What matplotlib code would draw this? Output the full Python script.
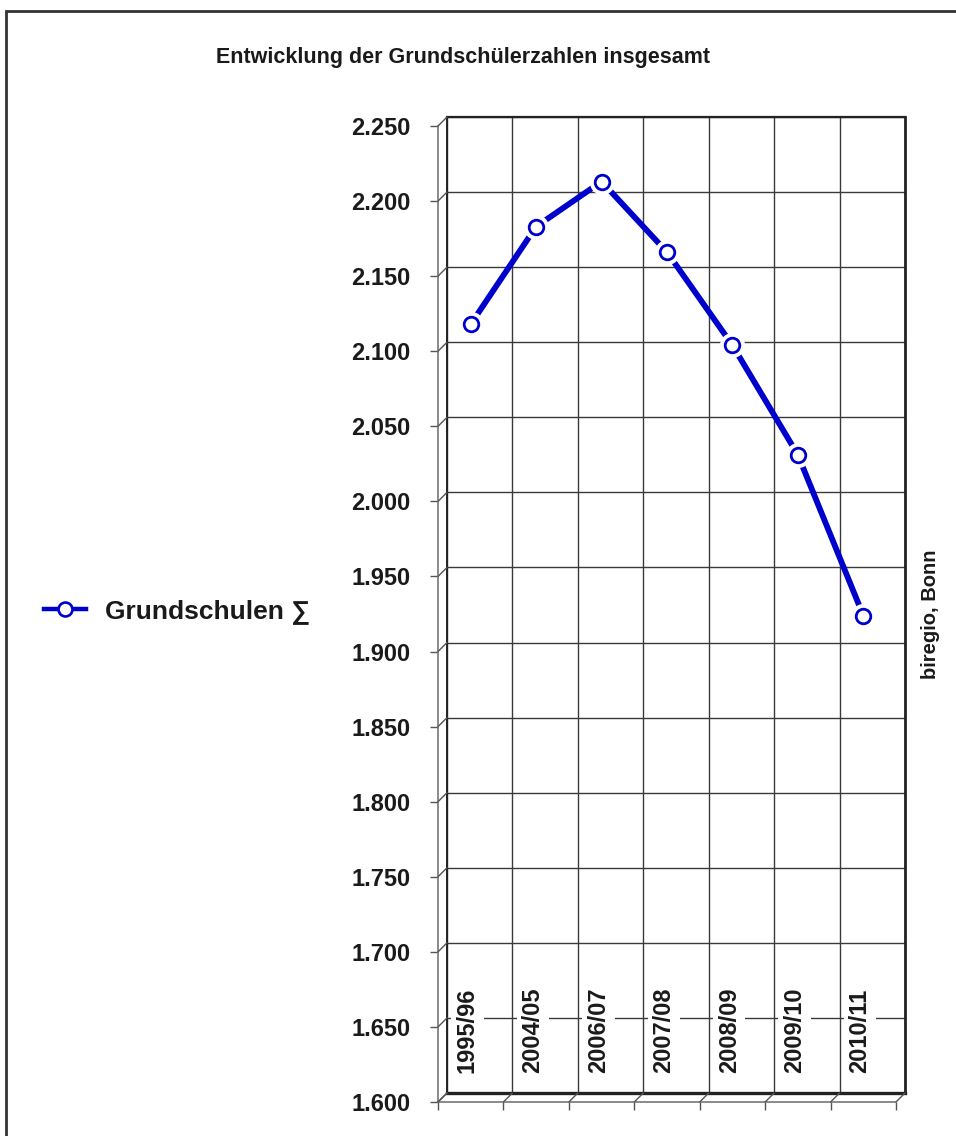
import matplotlib
matplotlib.use('Agg')
import matplotlib.pyplot as plt
from matplotlib.lines import Line2D
from matplotlib.patches import Rectangle, ConnectionPatch
from matplotlib.ticker import FuncFormatter

plt.rcParams['font.family'] = ['Liberation Sans', 'DejaVu Sans']

# data
school_years = ['1995/96', '2004/05', '2006/07', '2007/08', '2008/09', '2009/10', '2010/11']
pupils = [2118, 2183, 2213, 2166, 2104, 2031, 1924]
y_ticks = list(range(1600, 2251, 50))
series_name = 'Grundschulen \u2211'
title = 'Entwicklung der Grundschülerzahlen insgesamt'
source = 'biregio, Bonn'

W, H = 956, 1136
blue = '#0000cc'
ink = '#1a1a1a'
fig = plt.figure(figsize=(W / 100, H / 100), dpi=100)

# back wall (shifted up/right for the pseudo 3d look)
wall = fig.add_axes([447 / W, 43 / H, 458 / W, 976 / H])
wall.set_xlim(0, len(school_years))
wall.set_ylim(1600, 2250)
wall.set_xticks(range(len(school_years) + 1))
wall.set_yticks(y_ticks)
wall.tick_params(length=0, labelleft=False, labelbottom=False)
wall.grid(True, color='#3a3a3a', lw=1.0)
for side, lw in [('left', 1.4), ('top', 1.6), ('right', 2.0), ('bottom', 2.4)]:
    wall.spines[side].set_color('#222222')
    wall.spines[side].set_linewidth(lw)

# front axes with the real ticks
ax = fig.add_axes([438 / W, 34 / H, 458 / W, 976 / H])
ax.patch.set_alpha(0)
ax.set_xlim(0, len(school_years))
ax.set_ylim(1600, 2250)
ax.set_xticks(range(len(school_years) + 1))
ax.set_yticks(y_ticks)
ax.yaxis.set_major_formatter(FuncFormatter(lambda v, p: f'{v:,.0f}'.replace(',', '.')))
ax.tick_params(axis='y', direction='out', length=6, width=1, color='#555555',
               pad=14, labelsize=17, labelcolor=ink)
ax.tick_params(axis='x', direction='out', length=6, width=1, color='#555555',
               labelbottom=False)
for lab in ax.get_yticklabels():
    lab.set_fontweight('bold')
for side in ['top', 'right']:
    ax.spines[side].set_visible(False)
for side in ['left', 'bottom']:
    ax.spines[side].set_color('#777777')
    ax.spines[side].set_linewidth(1.2)

# diagonal connectors front -> wall
for y in y_ticks:
    fig.add_artist(ConnectionPatch((0, y), (0, y), ax.transData, wall.transData,
                                   color='#555555', lw=1))
for i in range(len(school_years) + 1):
    fig.add_artist(ConnectionPatch((i, 1600), (i, 1600), ax.transData, wall.transData,
                                   color='#555555', lw=1))

# category labels inside the wall
for i, yr in enumerate(school_years):
    ax.text(i + 0.45, 1619, yr, rotation=90, ha='center', va='bottom',
            fontsize=17, fontweight='bold', color=ink, zorder=2,
            bbox=dict(boxstyle='square,pad=0.2', fc='white', ec='none'))

# series
xs = [i + 0.5 for i in range(len(school_years))]
ax.plot(xs, pupils, color=blue, lw=4.2, zorder=3, clip_on=False)
ax.plot(xs, pupils, 'o', ms=17, color='white', zorder=4, clip_on=False)
ax.plot(xs, pupils, 'o', ms=10.5, mfc='white', mec=blue, mew=2.0, zorder=5, clip_on=False)

# legend on the left
handle = Line2D([], [], color=blue, lw=3.2, marker='o', ms=10, mfc='white', mec=blue, mew=1.9)
fig.legend([handle], [series_name], loc='center left', bbox_to_anchor=(44 / W, 1 - 612 / H),
           frameon=False, borderpad=0, borderaxespad=0, handlelength=1.6, handletextpad=0.7,
           prop={'size': 19, 'weight': 'bold'}, labelcolor=ink)

fig.text(463 / W, 1 - 58 / H, title, ha='center', va='center', fontsize=15.5,
         fontweight='bold', color=ink)
fig.text(930 / W, 1 - 614 / H, source, rotation=90, ha='center', va='center',
         fontsize=14.5, fontweight='bold', color=ink)

# outer frame (only left and top edges visible)
fig.add_artist(Rectangle((6 / W, -0.1), 1.2, 1.1 - 11 / H, transform=fig.transFigure,
                         fill=False, ec='#333333', lw=2))

fig.savefig('out.png', dpi=100)
